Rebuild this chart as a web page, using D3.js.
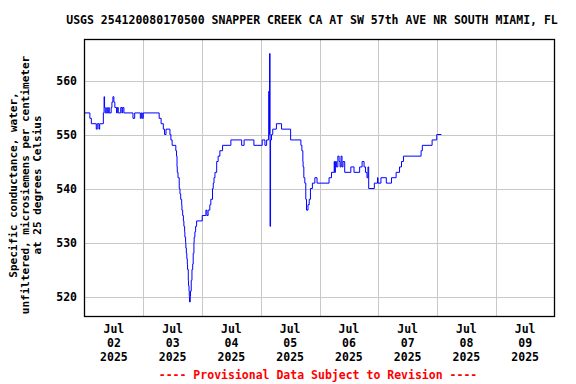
<!DOCTYPE html>
<html>
<head>
<meta charset="utf-8">
<style>
  body { margin: 0; background: #fff; }
  text { font-family: "DejaVu Sans Mono", "Liberation Mono", monospace; font-weight: bold; }
</style>
</head>
<body>
<svg width="576" height="384"></svg>
<script src="https://d3js.org/d3.v7.min.js"></script>
<script>

// hours after Jul 02 2025 00:00, and the reading from that time on
var hours = [0, 2.2, 2.8, 4.8, 5.2, 5.9, 6.2, 7.7, 8.0, 8.2, 8.5, 9.1, 9.3, 9.9, 10.1, 10.9, 11.2, 11.6, 12.0, 12.4,
  13.1, 13.4, 13.8, 14.8, 15.3, 15.6, 16.1, 19.8, 20.5, 22.8, 23.2, 23.6, 24.0, 30.5, 31.3, 32.2, 32.7, 33.3,
  34.9, 35.3, 35.8, 37.3, 37.6, 37.8, 37.9, 38.2, 38.7, 39.0, 39.3, 39.7, 39.8, 40.1, 40.4, 40.6, 40.9, 41.0,
  41.3, 41.4, 41.6, 41.8, 42.0, 42.1, 42.4, 42.5, 42.7, 42.8, 42.9, 43.2, 43.3, 43.6, 43.9, 44.2, 44.4, 44.7,
  44.8, 45.1, 45.4, 45.8, 48.1, 49.6, 50.0, 50.5, 51.2, 51.6, 52.3, 52.6, 52.9, 53.3, 54.0, 54.6, 55.3, 56.4,
  59.8, 64.2, 65.2, 69.2, 72.6, 73.7, 74.4, 75.2, 75.3, 75.4, 75.6, 75.8, 76.0, 76.4, 76.9, 78.4, 80.5, 84.2,
  88.4, 88.8, 89.2, 89.3, 89.6, 90.0, 90.4, 90.7, 91.3, 91.8, 92.3, 93.1, 94.1, 95.0, 99.9, 100.9, 102.0, 102.2,
  102.5, 102.9, 103.5, 104.0, 104.4, 104.8, 105.2, 105.6, 106.3, 108.8, 110.1, 112.4, 113.4, 114.2, 114.8,
  115.4, 115.8, 116.1, 118.4, 119.7, 119.9, 121.1, 123.3, 125.4, 127.3, 128.7, 129.5, 130.3, 137.5, 138.0,
  142.0, 143.9, 145.8];
var values = [554, 553, 552, 551, 552, 551, 552, 554, 557, 555, 554, 555, 554, 555, 554, 555, 556, 557, 556, 555,
  554, 555, 554, 555, 554, 555, 554, 553, 554, 553, 554, 553, 554, 553, 552, 551, 550, 551,
  550, 549, 548, 547, 546, 544, 543, 542, 540, 539, 538, 537, 536, 535, 534, 533, 532, 531,
  530, 529, 528, 527, 526, 525, 523, 522, 521, 520, 519, 520, 521, 523, 525, 526, 528, 530,
  531, 532, 533, 534, 535, 536, 535, 536, 537, 538, 540, 541, 542, 543, 545, 546, 547, 548,
  549, 548, 549, 548, 549, 548, 549, 550, 558, 550, 565, 533, 549, 550, 551, 552, 551, 549,
  548, 547, 545, 544, 542, 541, 538, 536, 537, 538, 540, 541, 542, 541, 542, 543, 545, 543,
  545, 544, 546, 545, 544, 546, 544, 545, 543, 544, 543, 544, 545, 544, 543,
  542, 544, 540, 541, 542, 541, 542, 541, 542, 543, 544, 545, 546, 547, 548,
  549, 550, 550];

var yTicks = [520, 530, 540, 550, 560];
var dayLabels = ["02", "03", "04", "05", "06", "07", "08", "09"];
var monthLabel = "Jul", yearLabel = "2025";
var title = "USGS 254120080170500 SNAPPER CREEK CA AT SW 57th AVE NR SOUTH MIAMI, FL";
var yTitle = ["Specific conductance, water,", "unfiltered, microsiemens per centimeter", "at 25 degrees Celsius"];
var footer = "---- Provisional Data Subject to Revision ----";

var svg = d3.select("svg"),
    plotL = 84.5, plotR = 554.5, plotT = 39.5, plotB = 316.5;

var start = new Date(2025, 6, 2);
function at(h) { return new Date(start.getTime() + h * 3600000); }

var x = d3.scaleTime().domain([start, new Date(2025, 6, 10)]).range([plotL, plotR]);
var y = d3.scaleLinear().domain([516.3, 567.6]).range([plotB, plotT]);

var data = hours.map(function(h, i) { return {t: at(h), v: values[i]}; });

// grid
var days = d3.timeDay.range(new Date(2025, 6, 3), new Date(2025, 6, 10));
svg.append("g").selectAll("line").data(days).enter().append("line")
    .attr("x1", function(d) { return Math.round(x(d)) + 0.5; })
    .attr("x2", function(d) { return Math.round(x(d)) + 0.5; })
    .attr("y1", plotT).attr("y2", plotB)
    .attr("stroke", "#c8c8c8").attr("stroke-width", 1);
svg.append("g").selectAll("line").data(yTicks).enter().append("line")
    .attr("x1", plotL).attr("x2", plotR)
    .attr("y1", function(d) { return Math.round(y(d)) + 0.5; })
    .attr("y2", function(d) { return Math.round(y(d)) + 0.5; })
    .attr("stroke", "#c8c8c8").attr("stroke-width", 1);

// series
svg.append("path")
    .datum(data)
    .attr("fill", "none")
    .attr("stroke", "#0000ff")
    .attr("stroke-width", 1)
    .attr("d", d3.line().curve(d3.curveStepAfter)
        .x(function(d) { return x(d.t); })
        .y(function(d) { return y(d.v); }));

// frame
svg.append("rect")
    .attr("x", plotL).attr("y", plotT)
    .attr("width", plotR - plotL).attr("height", plotB - plotT)
    .attr("fill", "none").attr("stroke", "#000").attr("stroke-width", 1.3);

// y tick labels
svg.append("g").selectAll("text").data(yTicks).enter().append("text")
    .attr("x", 77).attr("y", function(d) { return y(d); })
    .attr("dy", "0.35em")
    .attr("text-anchor", "end")
    .style("font-size", "11.5px")
    .text(function(d) { return d; });

// x tick labels, centred on noon of each day
var xl = svg.append("g").selectAll("g").data(dayLabels).enter().append("g")
    .attr("transform", function(d, i) { return "translate(" + x(at(12 + 24 * i)) + ",0)"; });
xl.append("text").attr("y", 333).attr("text-anchor", "middle").style("font-size", "11.5px").text(monthLabel);
xl.append("text").attr("y", 347).attr("text-anchor", "middle").style("font-size", "11.5px").text(function(d) { return d; });
xl.append("text").attr("y", 361).attr("text-anchor", "middle").style("font-size", "11.5px").text(yearLabel);

// title
svg.append("text")
    .attr("x", 312).attr("y", 24)
    .attr("text-anchor", "middle")
    .style("font-size", "11.5px")
    .text(title);

// y axis title
svg.append("g").selectAll("text").data(yTitle).enter().append("text")
    .attr("transform", function(d, i) { return "translate(" + (17 + 12 * i) + ",185) rotate(-90)"; })
    .attr("text-anchor", "middle")
    .style("font-size", "11px")
    .text(function(d) { return d; });

// footer
svg.append("text")
    .attr("x", 318).attr("y", 379)
    .attr("text-anchor", "middle")
    .attr("fill", "#ff0000")
    .style("font-size", "11.5px")
    .text(footer);

</script>
</body>
</html>
